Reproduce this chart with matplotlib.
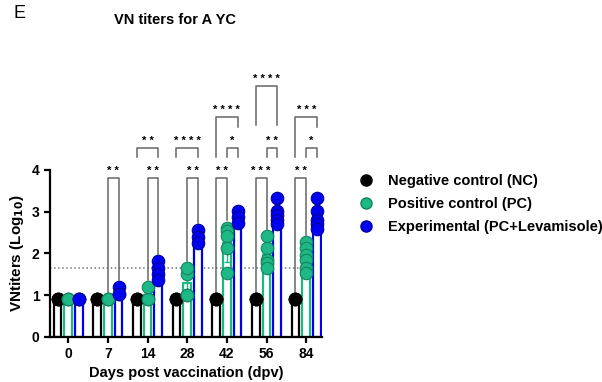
import numpy as np
import matplotlib
matplotlib.use("Agg")
import matplotlib.pyplot as plt
from matplotlib.lines import Line2D

plt.rcParams['font.family'] = ['Liberation Sans', 'DejaVu Sans']

# data
days = ['0', '7', '14', '28', '42', '56', '84']
groups = ['Negative control (NC)', 'Positive control (PC)', 'Experimental (PC+Levamisole)']
colors = ['#000000', '#1DB885', '#0000F0']
edge_colors = ['#000000', '#12845F', '#0000A0']

nc_vals = [[0.9, 0.9, 0.9], [0.9, 0.9, 0.9], [0.9, 0.9, 0.9], [0.9, 0.9, 0.9],
           [0.9, 0.9, 0.9], [0.9, 0.9, 0.9], [0.9, 0.9, 0.9]]
pc_vals = [[0.9, 0.9, 0.9],
           [0.9, 0.9, 0.9],
           [0.9, 0.9, 1.2],
           [1.0, 1.0, 1.5, 1.65],
           [2.62, 2.55, 2.42, 2.13, 1.53],
           [2.42, 2.13, 1.84, 1.77, 1.65],
           [2.27, 2.13, 1.96, 1.84, 1.65, 1.53]]
exp_vals = [[0.9, 0.9, 0.9],
            [1.2, 1.03, 1.03],
            [1.82, 1.65, 1.51, 1.37],
            [2.56, 2.4, 2.25],
            [3.02, 2.87, 2.73],
            [3.33, 3.02, 2.92, 2.8, 2.7],
            [3.33, 3.02, 2.8, 2.7, 2.58]]
all_vals = [nc_vals, pc_vals, exp_vals]
threshold = 1.65

# significance comparisons: (day index, group a, group b, stars)
sig_day = [1, 2, 2, 3, 3, 4, 4, 4, 5, 5, 5, 6, 6, 6]
sig_a = [1, 1, 0, 1, 0, 0, 1, 0, 0, 1, 0, 0, 1, 0]
sig_b = [2, 2, 2, 2, 2, 1, 2, 2, 1, 2, 2, 1, 2, 2]
sig_txt = ['* *', '* *', '* *', '* *', '* * * *', '* *', '*', '* * * *',
           '* * *', '* *', '* * * *', '* *', '*', '* * *']
# bracket layout (top, left leg end, right leg end); None = just above the points
br_top = [3.81, 3.81, 4.53, 3.81, 4.53, 3.81, 4.53, 5.27, 3.81, 4.53, 6.01, 3.81, 4.53, 5.27]
br_left = [None, None, 4.31, None, 4.31, None, 4.31, 4.31, None, 4.31, 5.08, None, 4.31, 4.31]
br_right = [None, None, 4.31, None, 4.31, None, 4.31, 5.03, None, 4.31, 5.08, None, 4.31, 5.03]

fig = plt.figure(figsize=(6.02, 3.82), dpi=100)
ax = fig.add_axes([0.083, 0.118, 0.452, 0.437])

x = np.arange(len(days))
off = 0.27
bw = 0.19

for g in range(3):
    xs = x + (g - 1) * off
    means = [np.mean(v) for v in all_vals[g]]
    sds = [np.std(v, ddof=1) for v in all_vals[g]]
    ax.bar(xs, means, width=bw, facecolor='white', edgecolor=colors[g], linewidth=1.6, zorder=2)
    ax.errorbar(xs, means, yerr=sds, fmt='none', ecolor=colors[g], elinewidth=1.0,
                capsize=2.5, capthick=1.0, zorder=3)
    for i in range(len(days)):
        vals = all_vals[g][i]
        ax.plot([xs[i]] * len(vals), vals, 'o', ms=9, mfc=colors[g], mec=edge_colors[g],
                mew=0.8, zorder=4, clip_on=False)

ax.axhline(threshold, color='#777777', ls=':', lw=1.1, zorder=1)

for k in range(len(sig_day)):
    d = sig_day[k]
    xa = x[d] + (sig_a[k] - 1) * off
    xb = x[d] + (sig_b[k] - 1) * off
    top = br_top[k]
    lo_a = br_left[k] if br_left[k] is not None else max(all_vals[sig_a[k]][d]) + 0.17
    lo_b = br_right[k] if br_right[k] is not None else max(all_vals[sig_b[k]][d]) + 0.17
    ax.plot([xa, xa, xb, xb], [lo_a, top, top, lo_b], color='#666666', lw=1.1,
            clip_on=False, zorder=1)
    ax.text((xa + xb) / 2, top + 0.05, sig_txt[k], ha='center', va='bottom',
            fontsize=8, fontweight='bold', clip_on=False)

ax.set_xlim(-0.46, 6.4)
ax.set_ylim(0, 4)
ax.set_xticks(x)
ax.set_xticklabels(days)
ax.set_yticks([0, 1, 2, 3, 4])
ax.spines['top'].set_visible(False)
ax.spines['right'].set_visible(False)
ax.spines['left'].set_linewidth(1.6)
ax.spines['bottom'].set_linewidth(1.6)
ax.tick_params(width=1.6, length=4, labelsize=10)
for lab in ax.get_xticklabels() + ax.get_yticklabels():
    lab.set_fontweight('bold')
ax.set_xlabel('Days post vaccination (dpv)', fontsize=10.5, fontweight='bold', labelpad=3)
ax.set_ylabel('VNtiters (Log$_{\\mathbf{10}}$)', fontsize=11, fontweight='bold', labelpad=4)

fig.text(0.022, 0.965, 'E', fontsize=13, va='center')
fig.text(0.19, 0.948, 'VN titers for A YC', fontsize=10.5, fontweight='bold', va='center')

handles = [Line2D([], [], ls='none', marker='o', ms=8, mfc=colors[g], mec=edge_colors[g])
           for g in range(3)]
fig.legend(handles, groups, loc='upper left', bbox_to_anchor=(0.572, 0.578), frameon=False,
           prop={'weight': 'bold', 'size': 10.5}, handletextpad=0.9, labelspacing=0.62,
           handlelength=1.2)

fig.savefig('out.png', dpi=100)
